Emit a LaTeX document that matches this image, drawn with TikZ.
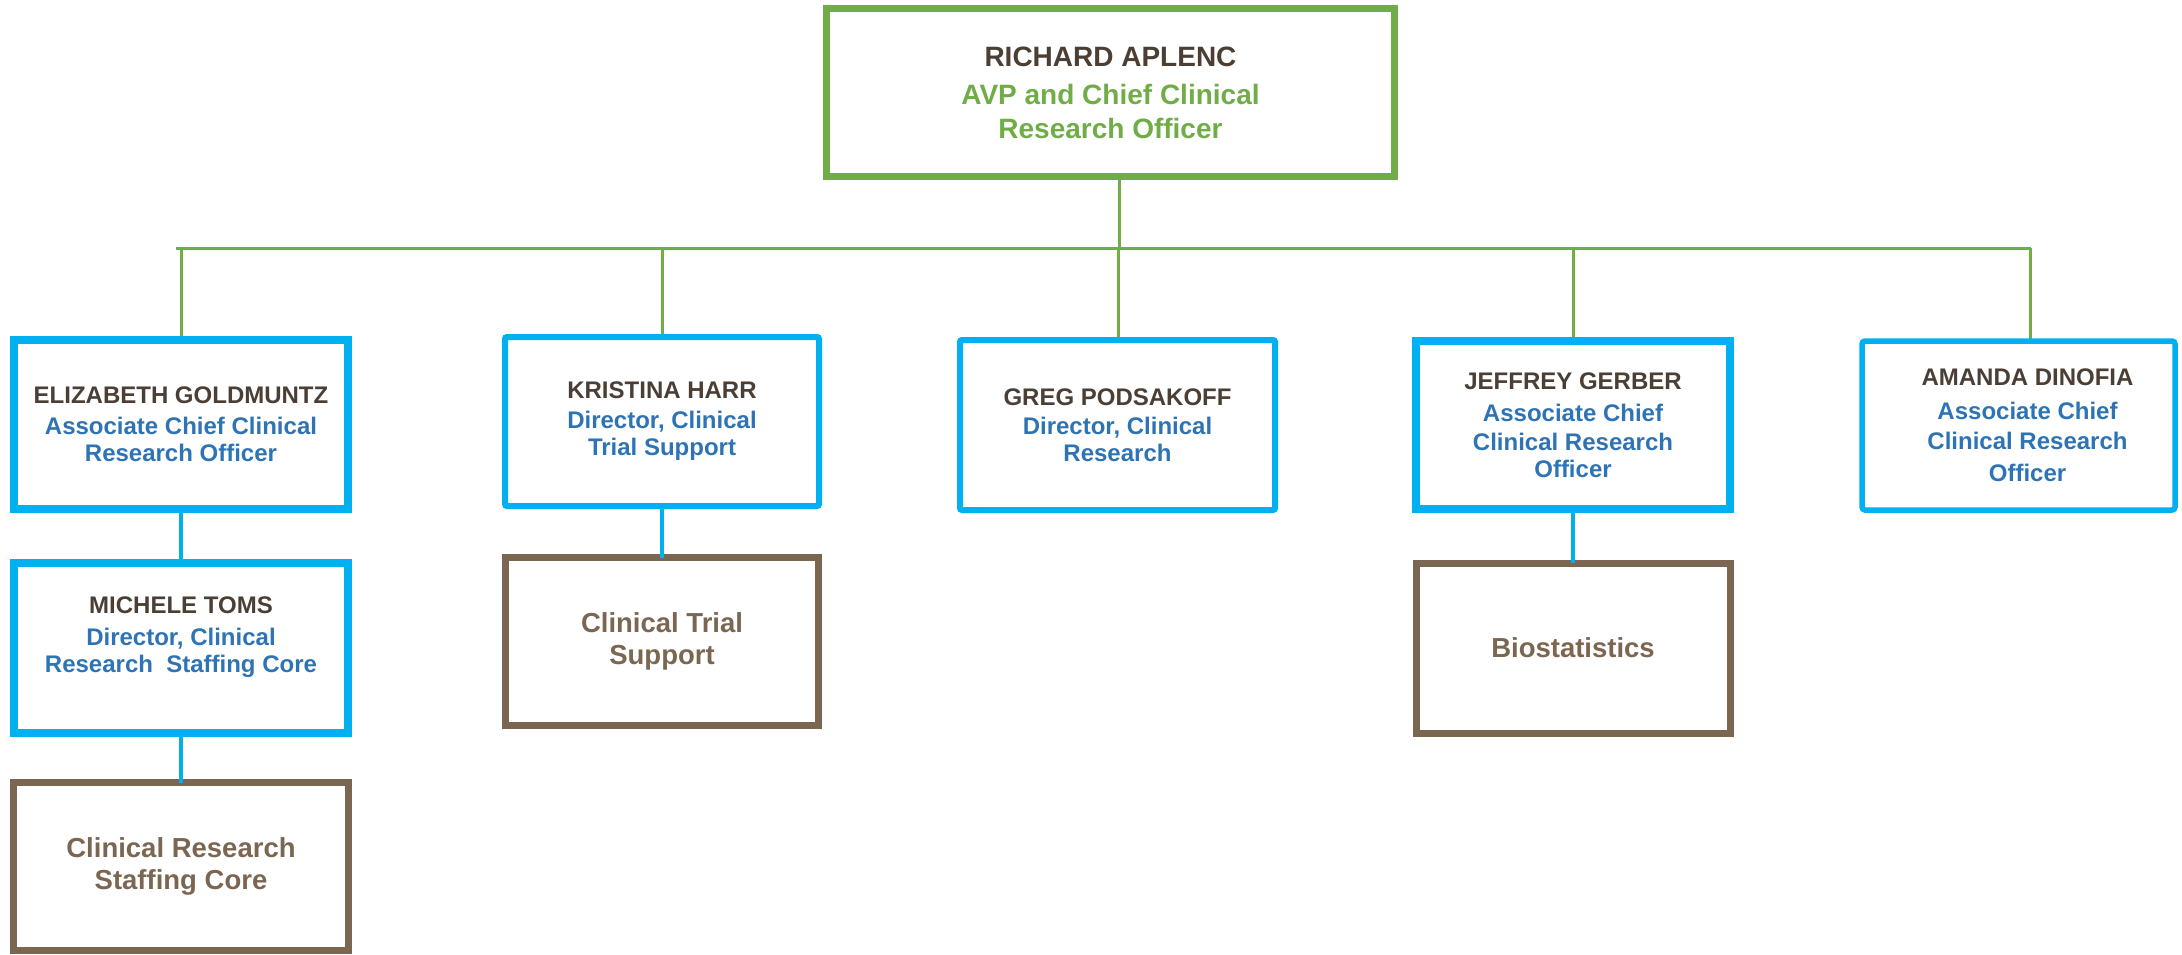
\documentclass[tikz,border=0pt]{standalone}
\usepackage{fontspec}
\setmainfont{Liberation Sans}
\definecolor{topgreen}{HTML}{70AD47}
\definecolor{boxblue}{HTML}{00B0F0}
\definecolor{boxbrown}{HTML}{7B6651}
\definecolor{namec}{HTML}{4B3F35}
\definecolor{titleb}{HTML}{2E74B5}
\begin{document}
\begin{tikzpicture}[x=1pt,y=-1pt,
  basebox/.style={draw, outer sep=0pt, inner sep=0pt, align=center, anchor=north west},
  topbox/.style={basebox, draw=topgreen, line width=7pt, text=topgreen,
     font=\bfseries\fontsize{28}{34}\selectfont},
  personbox/.style={basebox, draw=boxblue, line width=8pt, text=titleb,
     font=\bfseries\fontsize{24}{27}\selectfont},
  thinperson/.style={personbox, line width=6pt, rounded corners=2pt},
  unitbox/.style={basebox, draw=boxbrown, line width=7pt, text=boxbrown,
     font=\bfseries\fontsize{27.5}{32}\selectfont},
  greenline/.style={draw=topgreen, line width=3pt},
  blueline/.style={draw=boxblue, line width=4pt}]
\useasboundingbox (0,0) rectangle (2182,954);

% coordinates of the bus
\coordinate (hub) at (1119,248);
\coordinate (busl) at (176,248);
\coordinate (busr) at (2031,248);
\coordinate (adrop) at (2030,248);

% connectors first (boxes drawn over them)
\draw[greenline] (busl) -- (busr);
\draw[greenline] (1119,176) coordinate (topdrop) -- (hub);
\draw[greenline] (181,248) coordinate (edrop) -- (181,340);
\draw[greenline] (662,248) coordinate (kdrop) -- (662,337);
\draw[greenline] (1118,248) coordinate (gdrop) -- (1118,340);
\draw[greenline] (1573,248) coordinate (jdrop) -- (1573,341);
\draw[greenline] (adrop) -- (2030,341);

% top box
\node[topbox, minimum width=568pt, minimum height=168pt] (top) at (826.5,8.5)
  {\textcolor{namec}{RICHARD APLENC}\\[4pt]AVP and Chief Clinical\\Research Officer};

% second level
\node[personbox, minimum width=334pt, minimum height=169pt] (eg) at (14,340)
  {\textcolor{namec}{ELIZABETH GOLDMUNTZ}\\[4pt]Associate Chief Clinical\\Research Officer};
\node[thinperson, minimum width=314pt, minimum height=169pt] (kh) at (505,337)
  {\textcolor{namec}{KRISTINA HARR}\\[3pt]Director, Clinical\\Trial Support};
\node[thinperson, minimum width=315pt, minimum height=170pt] (gp) at (960,340)
  {\textcolor{namec}{GREG PODSAKOFF}\\[2pt]Director, Clinical\\Research};
\node[personbox, minimum width=314pt, minimum height=168pt] (jg) at (1416,341)
  {\textcolor{namec}{JEFFREY GERBER}\\[5pt]Associate Chief\\[2pt]Clinical Research\\Officer};
\node[thinperson, line width=5.5pt, rounded corners=3pt, minimum width=313pt, minimum height=169pt] (ad) at (1862,341)
  {\hspace*{18pt}\textcolor{namec}{AMANDA DINOFIA}\\[7pt]\hspace*{18pt}Associate Chief\\[3pt]\hspace*{18pt}Clinical Research\\[5pt]\hspace*{18pt}Officer};

% third level
\node[personbox, minimum width=334pt, minimum height=170pt] (mt) at (14,563)
  {\textcolor{namec}{MICHELE TOMS}\\[5pt]Director, Clinical\\Research\ \ Staffing Core\\\mbox{}};
\node[unitbox, minimum width=313pt, minimum height=168pt] (cts) at (505.5,557.5)
  {Clinical Trial\\Support};
\node[unitbox, minimum width=314pt, minimum height=170pt] (bio) at (1416,563)
  {Biostatistics};

% fourth level
\node[unitbox, minimum width=335pt, minimum height=168pt] (crsc) at (13.5,782.5)
  {Clinical Research\\Staffing Core};

% blue connectors
\draw[blueline] (eg.south) -- (mt.north);
\draw[blueline] (mt.south) -- (crsc.north);
\draw[blueline] (kh.south) -- (cts.north);
\draw[blueline] (jg.south) -- (bio.north);
\end{tikzpicture}
\end{document}
